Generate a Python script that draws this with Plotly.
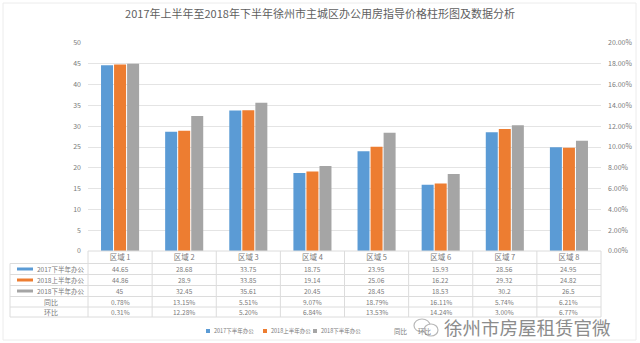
import plotly.graph_objects as go

# ---- data ----
regions = ["区域 1", "区域 2", "区域 3", "区域 4", "区域 5", "区域 6", "区域 7", "区域 8"]
series_names = ["2017下半年办公", "2018上半年办公", "2018下半年办公"]
price_2017h2 = [44.65, 28.68, 33.75, 18.75, 23.95, 15.93, 28.56, 24.95]
price_2018h1 = [44.86, 28.9, 33.85, 19.14, 25.06, 16.22, 29.32, 24.82]
price_2018h2 = [45, 32.45, 35.61, 20.45, 28.45, 18.53, 30.2, 26.5]
ratio_names = ["同比", "环比"]
yoy = [0.0078, 0.1315, 0.0551, 0.0907, 0.1879, 0.1611, 0.0574, 0.0621]
mom = [0.0031, 0.1228, 0.0520, 0.0684, 0.1353, 0.1424, 0.0300, 0.0677]
left_ticks = [0, 5, 10, 15, 20, 25, 30, 35, 40, 45, 50]
right_ticks = [0, 0.02, 0.04, 0.06, 0.08, 0.10, 0.12, 0.14, 0.16, 0.18, 0.20]

colors = ["#5B9BD5", "#ED7D31", "#A5A5A5"]
FONT = "Noto Sans CJK SC"
TXT = "#7a7a7a"

W, H = 640, 343
ML, MR, MT, MB = 88, 39, 43, 92
PW, PH = W - ML - MR, H - MT - MB


def py(pix):
    """pixel row -> paper y"""
    return (H - MB - pix) / PH


def px(pix):
    """pixel column -> paper x"""
    return (pix - ML) / PW


def label(x, xref, y, text, size, xanchor="center", color=TXT):
    fig.add_annotation(x=x, xref=xref, y=y, yref="paper", text=text, showarrow=False,
                       xanchor=xanchor, yanchor="middle",
                       font=dict(size=size, color=color, family=FONT))


fig = go.Figure()
for name, vals, c in zip(series_names, [price_2017h2, price_2018h1, price_2018h2], colors):
    fig.add_trace(go.Bar(x=regions, y=vals, name=name, marker_color=c,
                         marker_line_width=0))
for name, vals in zip(ratio_names, [yoy, mom]):
    fig.add_trace(go.Scatter(x=regions, y=vals, name=name, yaxis="y2", mode="lines",
                             line=dict(color="rgba(0,0,0,0)", width=1)))

fig.update_layout(
    width=W, height=H,
    margin=dict(l=ML, r=MR, t=MT, b=MB, autoexpand=False),
    paper_bgcolor="white", plot_bgcolor="white",
    font=dict(family=FONT, color=TXT, size=7),
    barmode="group", bargap=0.39, bargroupgap=0.08,
    showlegend=False,
    title=dict(text="2017年上半年至2018年下半年徐州市主城区办公用房指导价格柱形图及数据分析",
               x=0.5, xanchor="center", y=1 - 14 / H, yanchor="middle",
               font=dict(size=11, color="#5f5f5f", family=FONT)),
    xaxis=dict(showline=False, ticks="", tickfont=dict(size=7.5, color=TXT),
               showgrid=False, zeroline=False, automargin=False),
    yaxis=dict(range=[0, 50], tickvals=left_ticks, showgrid=True, gridcolor="#e4e4e4",
               gridwidth=1, zeroline=False, showline=False, ticks="", automargin=False,
               tickfont=dict(size=7, color=TXT), ticklabelstandoff=6),
    yaxis2=dict(range=[0, 0.2], tickvals=right_ticks, tickformat=".2%", overlaying="y",
                side="right", showgrid=False, zeroline=False, showline=False, ticks="",
                automargin=False, tickfont=dict(size=7, color=TXT), ticklabelstandoff=6),
)

# ---- data table below the plot ----
row_y = [269, 280, 291, 302, 312]
row_labels = series_names + ratio_names
row_values = [
    [f"{v:g}" for v in price_2017h2],
    [f"{v:g}" for v in price_2018h1],
    [f"{v:g}" for v in price_2018h2],
    [f"{v:.2%}" for v in yoy],
    [f"{v:.2%}" for v in mom],
]
for r, (lab, vals) in enumerate(zip(row_labels, row_values)):
    for reg, v in zip(regions, vals):
        label(reg, "x", py(row_y[r]), v, 6.5)
    if r < 3:
        label(px(35), "paper", py(row_y[r]), lab, 6.5, xanchor="left")
        fig.add_shape(type="line", xref="paper", yref="paper",
                      x0=px(17), x1=px(33), y0=py(row_y[r]), y1=py(row_y[r]),
                      line=dict(color=colors[r], width=3))
    else:
        label(px(42), "paper", py(row_y[r]), lab, 7, xanchor="left")

grid = dict(color="#dcdcdc", width=1)
fig.add_shape(type="line", xref="paper", yref="paper", x0=0, x1=1,
              y0=py(251), y1=py(251), line=grid)
for yb in [263.5, 274.5, 285.5, 296.5, 307, 317]:
    fig.add_shape(type="line", xref="paper", yref="paper", x0=px(10), x1=1,
                  y0=py(yb), y1=py(yb), line=grid)
for k in range(len(regions) + 1):
    fig.add_shape(type="line", xref="paper", yref="paper",
                  x0=k / len(regions), x1=k / len(regions),
                  y0=py(251), y1=py(317), line=grid)
fig.add_shape(type="line", xref="paper", yref="paper", x0=px(10), x1=px(10),
              y0=py(263.5), y1=py(317), line=grid)

# ---- legend row ----
legend_y = py(331)
lx = [206, 263, 313]
for name, c, x0 in zip(series_names, colors, lx):
    fig.add_shape(type="rect", xref="paper", yref="paper", x0=px(x0), x1=px(x0 + 4),
                  y0=legend_y - 2 / PH, y1=legend_y + 2 / PH, fillcolor=c, line_width=0)
    label(px(x0 + 6), "paper", legend_y, name, 5.5, xanchor="left")
for name, x0 in zip(ratio_names, [392, 416]):
    label(px(x0), "paper", legend_y, name, 6.5, xanchor="left")

# outer frame
fig.add_shape(type="rect", xref="paper", yref="paper", x0=px(3), x1=px(636),
              y0=py(340), y1=py(3), line=dict(color="#ececec", width=1))

# account watermark
fig.add_shape(type="circle", xref="paper", yref="paper", x0=px(414), x1=px(430),
              y0=py(332), y1=py(319), line=dict(color="#b8b8b8", width=1.2))
fig.add_shape(type="circle", xref="paper", yref="paper", x0=px(424), x1=px(438),
              y0=py(336), y1=py(324), line=dict(color="#b8b8b8", width=1.2),
              fillcolor="white")
label(px(442), "paper", py(327), "徐州市房屋租赁官微", 18.5, xanchor="left", color="#8c8c8c")

fig.write_html("out.html")
